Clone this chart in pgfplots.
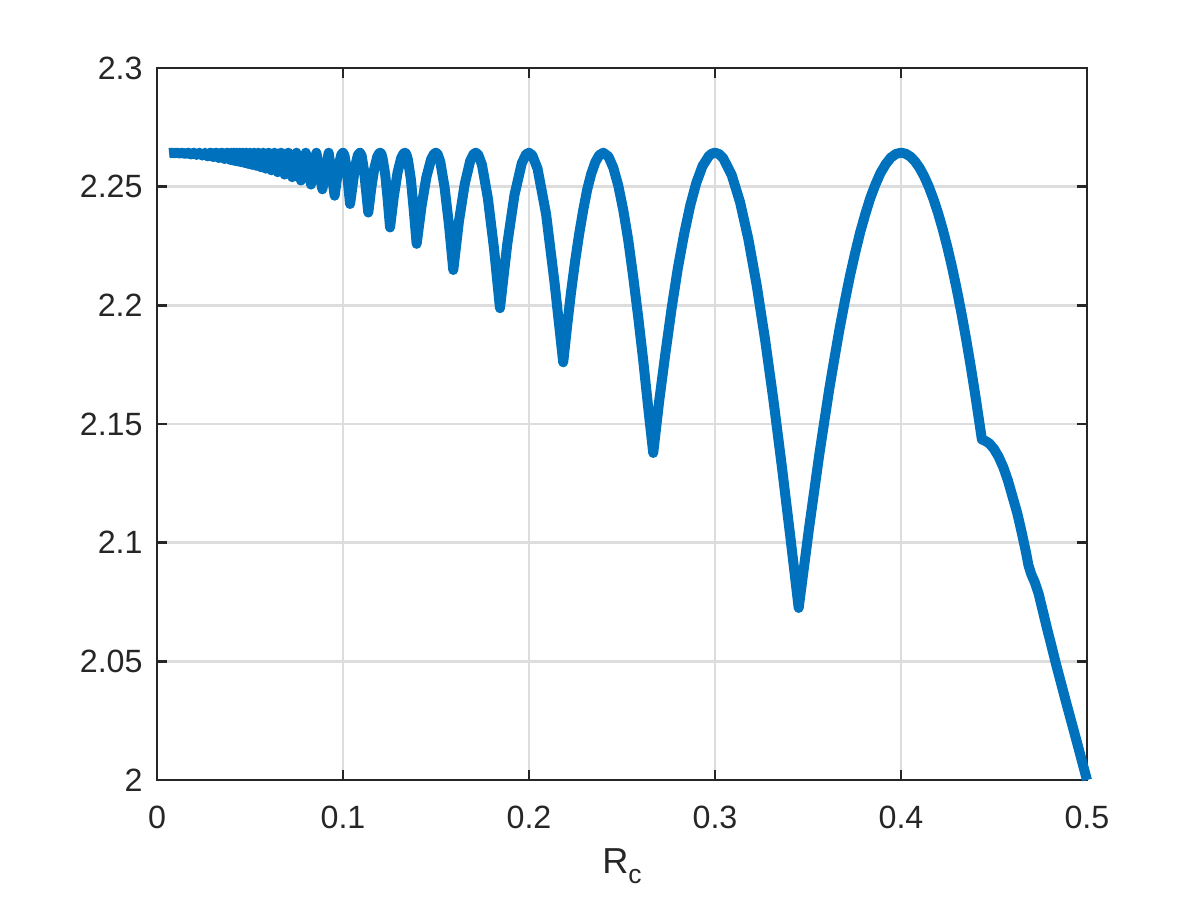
\documentclass[border=0pt]{standalone}
\usepackage{pgfplots}
\pgfplotsset{compat=1.18}
\usepackage{fontspec}
\setmainfont{Liberation Sans}
\definecolor{mblue}{HTML}{0072BD}
\definecolor{axgray}{HTML}{262626}
\definecolor{gridgray}{HTML}{DDDDDD}
\begin{document}
\begin{tikzpicture}
\path[use as bounding box] (-56.52pt,-43.2pt) rectangle (375.48pt,280.8pt);
\begin{axis}[
  at={(0,0)}, anchor=south west,
  scale only axis, width=334.8pt, height=256.32pt,
  xmin=0, xmax=0.5, ymin=2, ymax=2.3,
  xtick={0,0.1,0.2,0.3,0.4,0.5},
  xticklabels={0,0.1,0.2,0.3,0.4,0.5},
  ytick={2,2.05,2.1,2.15,2.2,2.25,2.3},
  yticklabels={2,2.05,2.1,2.15,2.2,2.25,2.3},
  tick align=inside,
  major tick length=3.6pt,
  tick style={axgray, line width=1pt},
  axis line style={axgray, line width=1pt},
  grid=major,
  major grid style={gridgray, line width=1pt},
  ticklabel style={font=\fontsize{11.6}{13}\selectfont, text=axgray},
  xticklabel style={anchor=north, inner sep=0pt, yshift=-9pt},
  yticklabel style={anchor=east, inner sep=0pt, xshift=-5pt},
  xlabel={R\raisebox{-0.5ex}{\fontsize{9.5}{10}\selectfont c}},
  xlabel style={at={(axis description cs:0.5,0)}, anchor=base, yshift=-33.8pt, inner sep=0pt, font=\fontsize{13}{15}\selectfont, text=axgray},
  clip=false,
]
\addplot[mblue, line width=3.6pt, line join=round] coordinates {
(0.0065,2.2642) (0.0078,2.2643) (0.0093,2.2641) (0.0108,2.2643) (0.0123,2.2640)
(0.0138,2.2643) (0.0153,2.2638) (0.0168,2.2643) (0.0183,2.2636) (0.0198,2.2643)
(0.0213,2.2634) (0.0228,2.2643) (0.0243,2.2631) (0.0258,2.2643) (0.0273,2.2628)
(0.0288,2.2643) (0.0303,2.2625) (0.0318,2.2643) (0.0333,2.2621) (0.0348,2.2643)
(0.0363,2.2617) (0.0378,2.2643)
(0.0393,2.2613) (0.0400,2.2643) (0.0407,2.2611) (0.0414,2.2643) (0.0421,2.2608)
(0.0429,2.2643) (0.0436,2.2606) (0.0444,2.2643) (0.0453,2.2603) (0.0462,2.2643)
(0.0471,2.2600) (0.0480,2.2643) (0.0490,2.2596) (0.0500,2.2643) (0.0511,2.2592)
(0.0522,2.2643) (0.0533,2.2588) (0.0545,2.2643) (0.0558,2.2582) (0.0571,2.2643)
(0.0585,2.2576) (0.0600,2.2643) (0.0615,2.2569) (0.0632,2.2643) (0.0649,2.2561)
(0.0667,2.2643) (0.0686,2.2551) (0.0706,2.2643) (0.0727,2.2540) (0.0750,2.2643)
(0.0774,2.2526) (0.0800,2.2643) (0.0828,2.2509) (0.0857,2.2643) (0.0889,2.2489)
(0.0923,2.2643) (0.0955,2.2462)
(0.0978,2.2594) (0.0991,2.2635) (0.1000,2.2643) (0.1008,2.2632) (0.1019,2.2580) (0.1038,2.2427)
(0.1065,2.2584) (0.1080,2.2633) (0.1091,2.2643) (0.1100,2.2631) (0.1113,2.2569) (0.1136,2.2391)
(0.1152,2.2494) (0.1168,2.2575) (0.1184,2.2626) (0.1194,2.2640) (0.1200,2.2643) (0.1206,2.2639) (0.1213,2.2619) (0.1227,2.2551) (0.1240,2.2449) (0.1253,2.2328)
(0.1273,2.2457) (0.1293,2.2558) (0.1313,2.2621) (0.1325,2.2639) (0.1333,2.2643) (0.1340,2.2638) (0.1349,2.2614) (0.1365,2.2531) (0.1380,2.2406) (0.1396,2.2259)
(0.1422,2.2416) (0.1448,2.2539) (0.1474,2.2616) (0.1490,2.2639) (0.1500,2.2643) (0.1509,2.2637) (0.1523,2.2605) (0.1546,2.2498) (0.1570,2.2338) (0.1593,2.2149)
(0.1623,2.2352) (0.1654,2.2509) (0.1684,2.2609) (0.1702,2.2637) (0.1714,2.2643) (0.1727,2.2635) (0.1747,2.2593) (0.1779,2.2451) (0.1812,2.2239) (0.1844,2.1988)
(0.1883,2.2257) (0.1922,2.2465) (0.1961,2.2598) (0.1984,2.2636) (0.2000,2.2643) (0.2018,2.2632) (0.2046,2.2576) (0.2092,2.2384) (0.2137,2.2098) (0.2184,2.1760)
(0.2205,2.1913) (0.2226,2.2055) (0.2248,2.2186) (0.2270,2.2302) (0.2292,2.2403) (0.2313,2.2488) (0.2335,2.2555) (0.2357,2.2604) (0.2378,2.2633) (0.2400,2.2643)
(0.2427,2.2627) (0.2453,2.2581) (0.2480,2.2505) (0.2507,2.2401) (0.2534,2.2273) (0.2560,2.2122) (0.2587,2.1952) (0.2614,2.1769) (0.2640,2.1576) (0.2668,2.1378)
(0.2700,2.1597) (0.2734,2.1801) (0.2767,2.1988) (0.2800,2.2155) (0.2834,2.2300) (0.2867,2.2421) (0.2900,2.2517) (0.2933,2.2587) (0.2967,2.2629) (0.2983,2.2639) (0.3000,2.2643)
(0.3023,2.2637) (0.3045,2.2619) (0.3090,2.2549) (0.3135,2.2434) (0.3180,2.2277) (0.3225,2.2081) (0.3270,2.1852) (0.3315,2.1596) (0.3360,2.1318) (0.3405,2.1025) (0.3450,2.0725)
(0.3478,2.0894) (0.3505,2.1057) (0.3533,2.1215) (0.3560,2.1367) (0.3588,2.1512) (0.3615,2.1650) (0.3643,2.1780) (0.3670,2.1902) (0.3698,2.2017) (0.3725,2.2122)
(0.3753,2.2219) (0.3780,2.2306) (0.3808,2.2384) (0.3835,2.2452) (0.3863,2.2510) (0.3890,2.2558) (0.3918,2.2595) (0.3945,2.2622) (0.3973,2.2638) (0.4000,2.2643)
(0.4025,2.2639) (0.4050,2.2627) (0.4075,2.2607) (0.4100,2.2579) (0.4125,2.2543) (0.4150,2.2499) (0.4175,2.2447) (0.4200,2.2387) (0.4225,2.2319)
(0.4250,2.2243) (0.4275,2.2159) (0.4300,2.2067) (0.4325,2.1967) (0.4350,2.1859) (0.4375,2.1743) (0.4400,2.1619) (0.4435,2.1435)
(0.4455,2.1428) (0.4475,2.1418) (0.4500,2.1395) (0.4525,2.1362) (0.4550,2.1318) (0.4575,2.1262) (0.4600,2.1193) (0.4625,2.1125) (0.4650,2.1040) (0.4672,2.0960) (0.4685,2.0906)
(0.4700,2.0868) (0.4720,2.0832) (0.4740,2.0785) (0.4783,2.0646) (0.4837,2.0478) (0.4891,2.0318) (0.4945,2.0162) (0.5000,2.0000)
};
\end{axis}
\end{tikzpicture}
\end{document}
